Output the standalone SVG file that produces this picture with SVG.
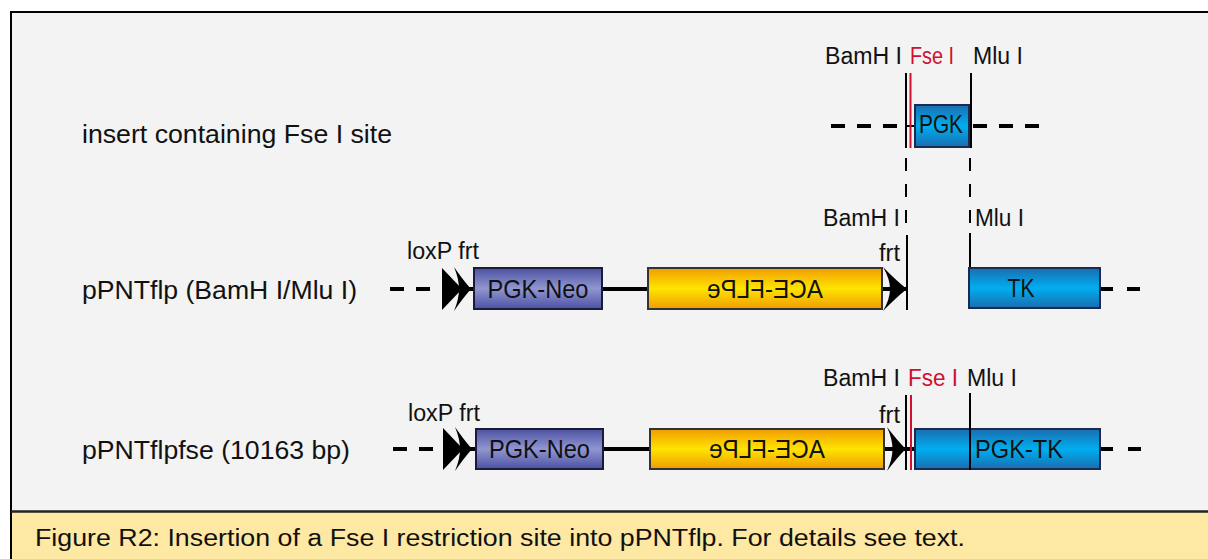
<svg xmlns="http://www.w3.org/2000/svg" width="1208" height="559" viewBox="0 0 1208 559">
  <defs>
    <linearGradient id="gNeo" x1="0" y1="0" x2="0" y2="1">
      <stop offset="0" stop-color="#4C51A2"/>
      <stop offset="0.5" stop-color="#9196D1"/>
      <stop offset="1" stop-color="#4C51A2"/>
    </linearGradient>
    <linearGradient id="gAce" x1="0" y1="0" x2="0" y2="1">
      <stop offset="0" stop-color="#F09C00"/>
      <stop offset="0.5" stop-color="#FFE400"/>
      <stop offset="1" stop-color="#F09C00"/>
    </linearGradient>
    <linearGradient id="gTk" x1="0" y1="0" x2="0" y2="1">
      <stop offset="0" stop-color="#1A6DB0"/>
      <stop offset="0.5" stop-color="#00AEEF"/>
      <stop offset="1" stop-color="#1A6DB0"/>
    </linearGradient>
    <!-- loxP (solid triangle) followed by frt (jet-style arrowhead), drawn at origin = backbone centre -->
    <path id="loxp" d="M0,-21 L20,0 L0,21 Z"/>
    <path id="frt" d="M0,-22 Q9,-9 17,0 Q9,9 0,22 Q5,10 5,0 Q5,-10 0,-22 Z"/>
  </defs>
  <style>
    text { font-family: "Liberation Sans", Arial, sans-serif; fill: #111; }
    .row { font-size: 26px; }
    .lbl { font-size: 23.5px; }
    .box { font-size: 25px; text-anchor: middle; }
    .red { fill: #D0102E; }
    .bb { stroke: #000; stroke-width: 4; fill: none; }
    .dash { stroke: #000; stroke-width: 4; fill: none; stroke-dasharray: 14 12; }
    .site { stroke: #000; stroke-width: 2; fill: none; }
    .fse { stroke: #D0102E; stroke-width: 2; fill: none; }
    .vdash { stroke: #000; stroke-width: 2; fill: none; stroke-dasharray: 13 13; }
    .neo { fill: url(#gNeo); stroke: #1A1A3A; stroke-width: 2; }
    .ace { fill: url(#gAce); stroke: #333; stroke-width: 2; }
    .tk { fill: url(#gTk); stroke: #1B2A50; stroke-width: 2; }
  </style>

  <!-- panel frame -->
  <rect x="0" y="0" width="1208" height="559" fill="#FFFFFF"/>
  <rect x="11" y="12" width="1210" height="560" fill="#F2F3F2" stroke="#000" stroke-width="2"/>
  <!-- caption band -->
  <rect x="12" y="512" width="1200" height="50" fill="#FDE8A4"/>
  <line x1="11" y1="511.5" x2="1208" y2="511.5" stroke="#222" stroke-width="2.5"/>
  <text id="caption" x="35" y="546" font-size="23" textLength="930" lengthAdjust="spacingAndGlyphs">Figure R2: Insertion of a Fse I restriction site into pPNTflp. For details see text.</text>

  <!-- row labels -->
  <g id="row-labels" class="row">
    <text x="82" y="143" textLength="310" lengthAdjust="spacingAndGlyphs">insert containing Fse I site</text>
    <text x="82" y="299" textLength="275" lengthAdjust="spacingAndGlyphs">pPNTflp (BamH I/Mlu I)</text>
    <text x="82" y="459" textLength="268" lengthAdjust="spacingAndGlyphs">pPNTflpfse (10163 bp)</text>
  </g>

  <!-- connectors: backbones, dashed continuations and site lines -->
  <g id="connectors">
    <!-- insert -->
    <line class="dash" x1="831" y1="126" x2="902" y2="126"/>
    <line x1="906" y1="126" x2="915" y2="126" stroke="#000" stroke-width="2"/>
    <line class="dash" x1="973" y1="126" x2="1042" y2="126"/>
    <!-- pPNTflp -->
    <line class="dash" x1="390" y1="289" x2="432" y2="289" stroke-dasharray="11 16"/>
    <line class="bb" x1="462" y1="289" x2="474" y2="289"/>
    <line class="bb" x1="602" y1="289" x2="648" y2="289"/>
    <line class="bb" x1="882" y1="289" x2="906" y2="289"/>
    <line class="bb" x1="1100" y1="289" x2="1113" y2="289"/>
    <line class="bb" x1="1127" y1="289" x2="1140" y2="289"/>
    <!-- pPNTflpfse -->
    <line class="dash" x1="393" y1="449" x2="435" y2="449" stroke-dasharray="10 17"/>
    <line class="bb" x1="463" y1="449" x2="476" y2="449"/>
    <line class="bb" x1="603" y1="449" x2="650" y2="449"/>
    <line class="bb" x1="884" y1="449" x2="915" y2="449"/>
    <line class="bb" x1="1100" y1="449" x2="1113" y2="449"/>
    <line class="bb" x1="1128" y1="449" x2="1141" y2="449"/>
    <!-- site lines, insert -->
    <line class="site" x1="906" y1="73" x2="906" y2="148"/>
    <line class="fse" x1="910.5" y1="73" x2="910.5" y2="148"/>
    <line class="site" x1="971" y1="73" x2="971" y2="148"/>
    <!-- dashed alignment guides between insert and vector -->
    <line class="vdash" x1="906" y1="158" x2="906" y2="224"/>
    <line class="vdash" x1="970" y1="158" x2="970" y2="224"/>
    <!-- site lines, pPNTflp -->
    <line class="site" x1="907" y1="235" x2="907" y2="310"/>
    <line class="site" x1="970" y1="233" x2="970" y2="269"/>
    <!-- site lines, pPNTflpfse -->
    <line class="site" x1="906" y1="395" x2="906" y2="470"/>
    <line class="fse" x1="911" y1="395" x2="911" y2="470"/>
  </g>

  <!-- insert -->
  <g id="insert-pgk">
    <rect class="tk" x="915" y="105" width="54" height="42"/>
    <text class="box" x="941" y="133" font-size="21" textLength="44" lengthAdjust="spacingAndGlyphs">PGK</text>
  </g>
  <g id="insert-sites" class="lbl">
    <text x="825" y="64" textLength="77" lengthAdjust="spacingAndGlyphs">BamH I</text>
    <text class="red" x="910" y="64" textLength="44" lengthAdjust="spacingAndGlyphs">Fse I</text>
    <text x="973" y="64" textLength="50" lengthAdjust="spacingAndGlyphs">Mlu I</text>
  </g>

  <!-- pPNTflp -->
  <g id="flp-loxp-frt">
    <use href="#loxp" x="442" y="289"/>
    <use href="#frt" x="454" y="289"/>
    <text class="lbl" x="407" y="259" textLength="72" lengthAdjust="spacingAndGlyphs">loxP frt</text>
  </g>
  <g id="flp-pgk-neo">
    <rect class="neo" x="474" y="268" width="128" height="41"/>
    <text class="box" x="538" y="297.5" textLength="101" lengthAdjust="spacingAndGlyphs">PGK-Neo</text>
  </g>
  <g id="flp-ace-flpe">
    <rect class="ace" x="648" y="268" width="234" height="41"/>
    <text class="box" x="765" y="297.5" transform="matrix(-1 0 0 1 1530 0)" textLength="116" lengthAdjust="spacingAndGlyphs">ACE-FLPe</text>
  </g>
  <g id="flp-frt">
    <use href="#frt" x="883" y="289" transform="translate(883 289) scale(1.4 1) translate(-883 -289)"/>
    <text class="lbl" x="879" y="261" textLength="21" lengthAdjust="spacingAndGlyphs">frt</text>
  </g>
  <g id="flp-sites" class="lbl">
    <text x="823" y="226" textLength="77" lengthAdjust="spacingAndGlyphs">BamH I</text>
    <text x="975" y="226" textLength="49" lengthAdjust="spacingAndGlyphs">Mlu I</text>
  </g>
  <g id="flp-tk">
    <rect class="tk" x="969" y="268" width="131" height="40"/>
    <text class="box" x="1021" y="297" textLength="27" lengthAdjust="spacingAndGlyphs">TK</text>
  </g>

  <!-- pPNTflpfse -->
  <g id="fse-loxp-frt">
    <use href="#loxp" x="443" y="449"/>
    <use href="#frt" x="455" y="449"/>
    <text class="lbl" x="408" y="421" textLength="72" lengthAdjust="spacingAndGlyphs">loxP frt</text>
  </g>
  <g id="fse-pgk-neo">
    <rect class="neo" x="476" y="429" width="127" height="40"/>
    <text class="box" x="539.5" y="457.5" textLength="101" lengthAdjust="spacingAndGlyphs">PGK-Neo</text>
  </g>
  <g id="fse-ace-flpe">
    <rect class="ace" x="650" y="429" width="234" height="40"/>
    <text class="box" x="767" y="457.5" transform="matrix(-1 0 0 1 1534 0)" textLength="116" lengthAdjust="spacingAndGlyphs">ACE-FLPe</text>
  </g>
  <g id="fse-frt">
    <use href="#frt" x="887" y="449" transform="translate(887 449) scale(1.1 1) translate(-887 -449)"/>
    <text class="lbl" x="879" y="423" textLength="21" lengthAdjust="spacingAndGlyphs">frt</text>
  </g>
  <g id="fse-pgk-tk">
    <rect class="tk" x="915" y="429" width="185" height="40"/>
    <line class="site" x1="970" y1="393" x2="970" y2="470"/>
    <text x="975" y="457.5" font-size="25" textLength="88" lengthAdjust="spacingAndGlyphs">PGK-TK</text>
  </g>
  <g id="fse-sites" class="lbl">
    <text x="823" y="386" textLength="77" lengthAdjust="spacingAndGlyphs">BamH I</text>
    <text class="red" x="908" y="386" textLength="50" lengthAdjust="spacingAndGlyphs">Fse I</text>
    <text x="967" y="386" textLength="50" lengthAdjust="spacingAndGlyphs">Mlu I</text>
  </g>
</svg>
